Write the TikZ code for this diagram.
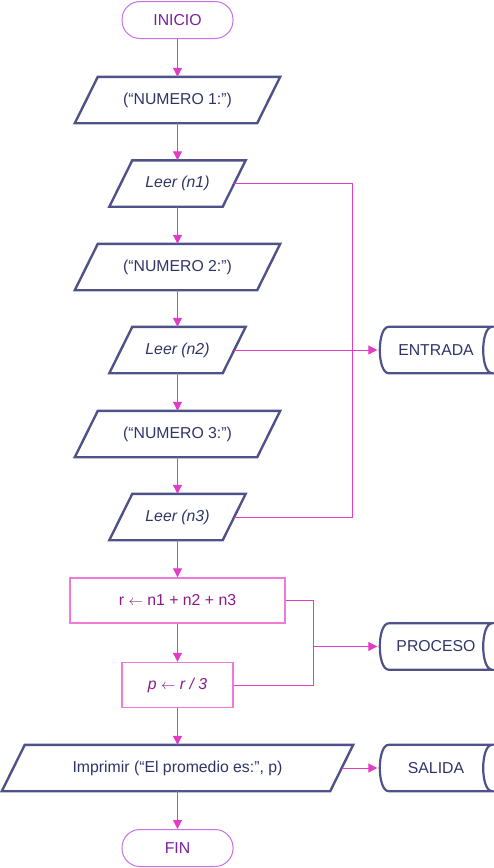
\documentclass[tikz,border=0pt]{standalone}
\usepackage{fontspec}
\setmainfont{Liberation Sans}
\usetikzlibrary{arrows.meta}
\definecolor{paraline}{HTML}{4E5288}
\definecolor{paratext}{HTML}{2E3466}
\definecolor{conn}{HTML}{E23CC6}
\definecolor{termline}{HTML}{C770E8}
\definecolor{termtext}{HTML}{7A1FA0}
\definecolor{rectline}{HTML}{F07AD6}
\definecolor{recttext}{HTML}{8A1A88}
\tikzset{
  base/.style={inner sep=0pt, font=\fontsize{15.8}{18}\selectfont},
  para/.style={base, minimum height=46, text=paratext},
  paraedge/.style={draw=paraline, line width=2.4pt, line join=miter},
  term/.style={base, draw=termline, line width=1pt, rounded corners=18, minimum width=111, minimum height=37, text=termtext},
  procbox/.style={base, draw=rectline, line width=1.4pt, minimum height=45, text=recttext},
  stored/.style={base, minimum width=114, minimum height=46, text=paratext},
  flow/.style={draw=conn, line width=1pt, -{Triangle[width=9pt,length=9pt]}},
  plain/.style={draw=conn, line width=1pt},
}
\newcommand{\paraframe}[1]{%
  \draw[paraedge] ([xshift=11.5]#1.north west) -- ([xshift=11.5]#1.north east) -- ([xshift=-11.5]#1.south east) -- ([xshift=-11.5]#1.south west) -- cycle;}
\newcommand{\storedframe}[1]{%
  \draw[paraedge, line width=2.2pt] ([xshift=10]#1.north west) -- ([xshift=-1]#1.north east) .. controls ([xshift=-13]#1.north east) and ([xshift=-13]#1.south east) .. ([xshift=-1]#1.south east) -- ([xshift=10]#1.south west) .. controls ([xshift=-2]#1.south west) and ([xshift=-2]#1.north west) .. ([xshift=10]#1.north west) -- cycle;}
\begin{document}
\begin{tikzpicture}[x=1pt,y=-1pt]
\useasboundingbox (0,0) rectangle (494,868);
\node[term] (inicio) at (177.5,20) {INICIO};
\node[para, minimum width=182] (n1t) at (177.5,100) {(“NUMERO 1:”)};
\node[para, minimum width=113] (l1) at (177.5,183.5) {\itshape Leer (n1)};
\node[para, minimum width=182] (n2t) at (177.5,267) {(“NUMERO 2:”)};
\node[para, minimum width=113] (l2) at (177.5,350) {\itshape Leer (n2)};
\node[para, minimum width=182] (n3t) at (177.5,434) {(“NUMERO 3:”)};
\node[para, minimum width=113] (l3) at (177.5,517) {\itshape Leer (n3)};
\node[procbox, minimum width=215] (r) at (177.5,600.5) {r $\leftarrow$ n1 + n2 + n3};
\node[procbox, minimum width=111] (p) at (177.5,685) {\itshape p $\leftarrow$ r / 3};
\node[para, minimum width=328] (imp) at (177.5,768) {Imprimir (“El promedio es:”, p)};
\node[term] (fin) at (177.5,848) {FIN};
\node[stored] (ent) at (436,350) {ENTRADA};
\node[stored] (proc) at (436,646.5) {PROCESO};
\node[stored] (sal) at (436,768) {SALIDA};
\foreach \n in {n1t,l1,n2t,l2,n3t,l3,imp} {\paraframe{\n}}
\foreach \n in {ent,proc,sal} {\storedframe{\n}}
\coordinate (j1) at (352,183.5);
\coordinate (j3) at (352,517);
\coordinate (k1) at (313.5,600.5);
\coordinate (k2) at (313.5,685);
\coordinate (k0) at (313.5,646.5);
\draw[flow] (inicio) -- (n1t);
\draw[flow] (n1t) -- (l1);
\draw[flow] (l1) -- (n2t);
\draw[flow] (n2t) -- (l2);
\draw[flow] (l2) -- (n3t);
\draw[flow] (n3t) -- (l3);
\draw[flow] (l3) -- (r);
\draw[flow] (r) -- (p);
\draw[flow] (p) -- (imp);
\draw[flow] (imp) -- (fin);
\draw[plain] (l1.east) -- (j1) -- (j3) -- (l3.east);
\draw[flow] (l2.east) -- ([xshift=-1.5]ent.west);
\draw[plain] (r.east) -- (k1) -- (k2) -- (p.east);
\draw[flow] (k0) -- ([xshift=-1.5]proc.west);
\draw[flow] (imp.east) -- ([xshift=-1.5]sal.west);
\end{tikzpicture}
\end{document}
